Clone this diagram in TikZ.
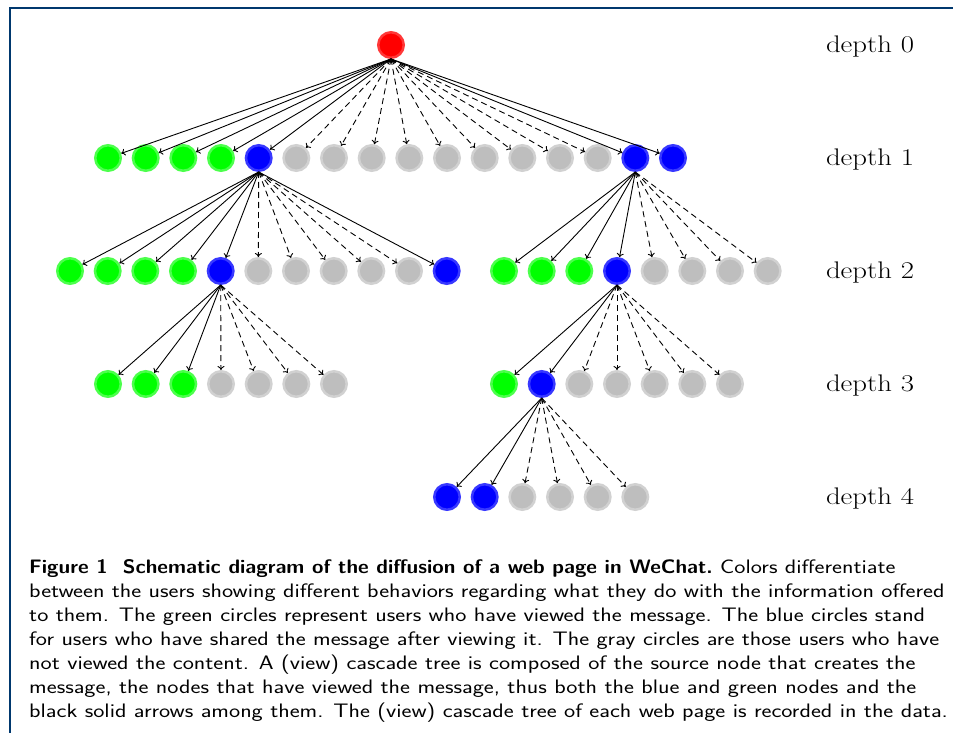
\documentclass[tikz,border=0pt]{standalone}
\usepackage{fontspec}
\usetikzlibrary{arrows.meta}
\definecolor{frameblue}{RGB}{0,56,110}
\definecolor{cred}{RGB}{255,0,0}
\definecolor{cgreen}{RGB}{0,255,0}
\definecolor{cblue}{RGB}{0,0,255}
\definecolor{cgray}{RGB}{190,190,190}
\begin{document}
\begin{tikzpicture}[x=1pt,y=-1pt,
  nd/.style={circle, inner sep=0pt, minimum size=25.5pt, line width=2.5pt},
  rd/.style={nd, fill=cred, draw=cred!78!white},
  gn/.style={nd, fill=cgreen, draw=cgreen!70!white},
  bl/.style={nd, fill=cblue, draw=cblue!78!white},
  gy/.style={nd, fill=cgray, draw=cgray!70!white},
  sol/.style={-{To[length=4pt,width=7pt]}, line width=0.9pt},
  dsh/.style={-{To[length=4pt,width=7pt]}, line width=0.9pt, dash pattern=on 6pt off 4pt},
  dlab/.style={font=\fontsize{24}{29}\selectfont, anchor=base, inner sep=0pt},
  capt/.style={anchor=base west, inner sep=0pt,
    font=\sffamily\fontsize{19.5}{24}\selectfont}]
\useasboundingbox (0,0) rectangle (953,733);
% frame
\draw[frameblue, line width=2.3pt] (9.8,733) -- (9.8,7.8) -- (953,7.8);

% depth 0
\node[rd] (r) at (391,45) {};
% depth 1
\foreach \n/\x/\s in {a1/108/gn, a2/145.7/gn, a3/183.3/gn, a4/221/gn, a5/258.7/bl,
  a6/296.3/gy, a7/334/gy, a8/371.7/gy, a9/409.3/gy, a10/447/gy, a11/484.7/gy,
  a12/522.3/gy, a13/560/gy, a14/597.7/gy, a15/635.3/bl, a16/673/bl}
  \node[\s] (\n) at (\x,158) {};
% depth 2 left (children of a5)
\foreach \n/\x/\s in {b1/70/gn, b2/107.7/gn, b3/145.3/gn, b4/183/gn, b5/220.7/bl,
  b6/258.3/gy, b7/296/gy, b8/333.7/gy, b9/371.3/gy, b10/409/gy, b11/446.7/bl}
  \node[\s] (\n) at (\x,271) {};
% depth 2 right (children of a15)
\foreach \n/\x/\s in {c1/504/gn, c2/541.7/gn, c3/579.3/gn, c4/617/bl,
  c5/654.7/gy, c6/692.3/gy, c7/730/gy, c8/767.7/gy}
  \node[\s] (\n) at (\x,271) {};
% depth 3 left (children of b5)
\foreach \n/\x/\s in {d1/108/gn, d2/145.7/gn, d3/183.3/gn, d4/221/gy,
  d5/258.7/gy, d6/296.3/gy, d7/334/gy}
  \node[\s] (\n) at (\x,384) {};
% depth 3 right (children of c4)
\foreach \n/\x/\s in {e1/504/gn, e2/541.7/bl, e3/579.3/gy, e4/617/gy,
  e5/654.7/gy, e6/692.3/gy, e7/730/gy}
  \node[\s] (\n) at (\x,384) {};
% depth 4 (children of e2)
\foreach \n/\x/\s in {f1/447/bl, f2/484.7/bl, f3/522.3/gy, f4/560/gy,
  f5/597.7/gy, f6/635.3/gy}
  \node[\s] (\n) at (\x,497) {};

% edges
\foreach \c in {a1,a2,a3,a4,a5,a15,a16} \draw[sol] (r.south) -- (\c);
\foreach \c in {a6,a7,a8,a9,a10,a11,a12,a13,a14} \draw[dsh] (r.south) -- (\c);
\foreach \c in {b1,b2,b3,b4,b5,b11} \draw[sol] (a5.south) -- (\c);
\foreach \c in {b6,b7,b8,b9,b10} \draw[dsh] (a5.south) -- (\c);
\foreach \c in {c1,c2,c3,c4} \draw[sol] (a15.south) -- (\c);
\foreach \c in {c5,c6,c7,c8} \draw[dsh] (a15.south) -- (\c);
\foreach \c in {d1,d2,d3} \draw[sol] (b5.south) -- (\c);
\foreach \c in {d4,d5,d6,d7} \draw[dsh] (b5.south) -- (\c);
\foreach \c in {e1,e2} \draw[sol] (c4.south) -- (\c);
\foreach \c in {e3,e4,e5,e6,e7} \draw[dsh] (c4.south) -- (\c);
\foreach \c in {f1,f2} \draw[sol] (e2.south) -- (\c);
\foreach \c in {f3,f4,f5,f6} \draw[dsh] (e2.south) -- (\c);

% depth labels
\node[dlab] (l0) at (870,52.3) {\scalebox{1.2}[1]{depth 0}};
\node[dlab] (l1) at (870,165.3) {\scalebox{1.2}[1]{depth 1}};
\node[dlab] (l2) at (870,278.3) {\scalebox{1.2}[1]{depth 2}};
\node[dlab] (l3) at (870,391.3) {\scalebox{1.2}[1]{depth 3}};
\node[dlab] (l4) at (870,504.3) {\scalebox{1.2}[1]{depth 4}};

% caption
\node[capt] (cap) at (29,573.3) {\scalebox{1.215}[1]{\begin{tabular}[t]{@{}l@{}}
\scalebox{0.877}[1]{\textbf{Figure 1\ \ Schematic diagram of the diffusion of a web page in WeChat.}} Colors differentiate\\
between the users showing different behaviors regarding what they do with the information offered\\
to them. The green circles represent users who have viewed the message. The blue circles stand\\
for users who have shared the message after viewing it. The gray circles are those users who have\\
not viewed the content. A (view) cascade tree is composed of the source node that creates the\\
message, the nodes that have viewed the message, thus both the blue and green nodes and the\\
black solid arrows among them. The (view) cascade tree of each web page is recorded in the data.
\end{tabular}}};
\end{tikzpicture}
\end{document}
